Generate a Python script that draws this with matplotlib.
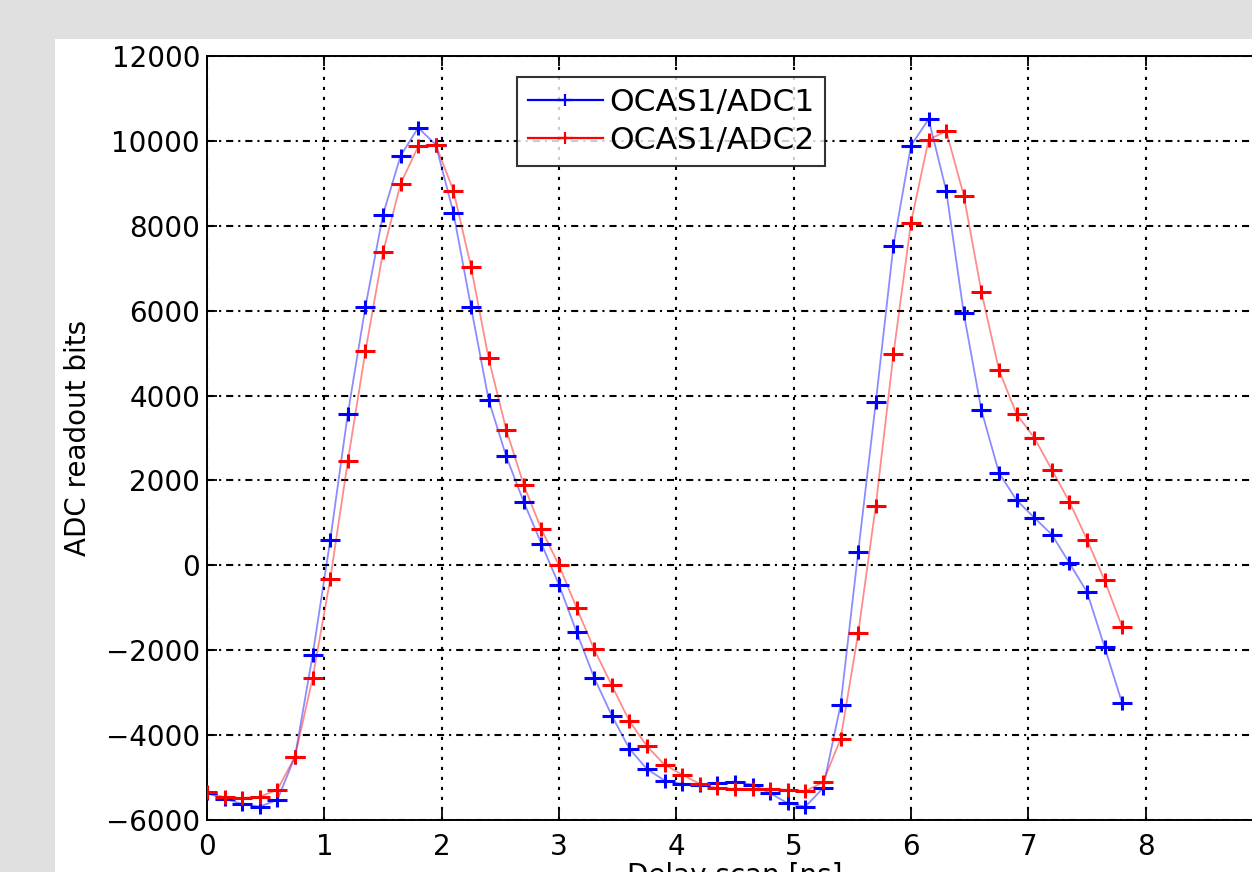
import matplotlib
matplotlib.use("Agg")
import matplotlib.pyplot as plt
from matplotlib.lines import Line2D
from matplotlib.patches import Rectangle
from matplotlib.path import Path

# ── Data ────────────────────────────────────────────────────────────────────
delay_ns = [0.00, 0.15, 0.30, 0.45, 0.60, 0.75, 0.90, 1.05, 1.20, 1.35,
            1.50, 1.65, 1.80, 1.95, 2.10, 2.25, 2.40, 2.55, 2.70, 2.85,
            3.00, 3.15, 3.30, 3.45, 3.60, 3.75, 3.90, 4.05, 4.20, 4.35,
            4.50, 4.65, 4.80, 4.95, 5.10, 5.25, 5.40, 5.55, 5.70, 5.85,
            6.00, 6.15, 6.30, 6.45, 6.60, 6.75, 6.90, 7.05, 7.20, 7.35,
            7.50, 7.65, 7.80]

adc1 = [-5370, -5500, -5620, -5685, -5525, -4505, -2120, 590, 3570, 6090,
        8260, 9650, 10310, 9910, 8310, 6090, 3900, 2570, 1490, 510,
        -460, -1570, -2650, -3540, -4320, -4800, -5070, -5150, -5165, -5135,
        -5095, -5165, -5370, -5605, -5685, -5250, -3285, 315, 3840, 7525,
        9890, 10510, 8830, 5935, 3655, 2180, 1535, 1125, 725, 55,
        -630, -1925, -3250]

adc2 = [-5350, -5465, -5480, -5450, -5290, -4505, -2660, -330, 2450, 5040,
        7375, 8990, 9870, 9910, 8830, 7035, 4875, 3200, 1890, 850,
        0, -1000, -1980, -2830, -3670, -4260, -4700, -4930, -5150, -5250,
        -5265, -5265, -5265, -5290, -5320, -5110, -4090, -1595, 1405, 4970,
        8075, 10025, 10235, 8710, 6445, 4600, 3560, 3010, 2255, 1495,
        605, -355, -1455]

series_labels = ["OCAS1/ADC1", "OCAS1/ADC2"]
series_colors = ["#0000ff", "#ff0000"]

x_ticks = [0, 1, 2, 3, 4, 5, 6, 7, 8, 9]
y_ticks = [-6000, -4000, -2000, 0, 2000, 4000, 6000, 8000, 10000, 12000]

# wide "+" marker (the scan looks horizontally stretched)
PLUS = Path([(-1.0, 0.0), (1.0, 0.0), (0.0, -0.7), (0.0, 0.7)],
            [Path.MOVETO, Path.LINETO, Path.MOVETO, Path.LINETO])

plt.rcParams["font.family"] = "DejaVu Sans"

W, H = 1252, 872
fig = plt.figure(figsize=(W / 100, H / 100), dpi=100)
fig.patch.set_facecolor("#e0e0e0")
fig.patches.append(Rectangle((55 / W, 0), 1, 1 - 39 / H, transform=fig.transFigure,
                             facecolor="white", edgecolor="none", zorder=-1))

# axes run past the right edge, like the cropped original
ax = fig.add_axes([207 / W, 1 - 820 / H, (1263 - 207) / W, (820 - 56) / H])
ax.set_facecolor("white")

handles = []
for ys, lab, col in zip([adc1, adc2], series_labels, series_colors):
    ax.plot(delay_ns, ys, color=col, lw=1.3, alpha=0.45, zorder=3)
    ax.plot(delay_ns, ys, linestyle="none", marker=PLUS, markersize=15,
            markeredgewidth=2.2, color=col, zorder=4)
    handles.append(Line2D([], [], color=col, lw=1.6, marker=PLUS,
                          markersize=12, markeredgewidth=1.6, label=lab))

ax.set_xlim(0, 9)
ax.set_ylim(-6000, 12000)
ax.set_xticks(x_ticks)
ax.set_yticks(y_ticks)

ax.xaxis.grid(True, color="black", lw=1.5, linestyle=(0, (1.5, 3.3)), zorder=1)
ax.yaxis.grid(True, color="black", lw=1.5, linestyle=(0, (3.4, 2.4, 1.0, 2.4)), zorder=1)
ax.set_axisbelow(True)

ax.tick_params(direction="in", length=7, width=1.3, labelsize=20,
               top=True, right=True, colors="black")
ax.tick_params(axis="x", pad=9)
ax.tick_params(axis="y", pad=5)
for s in ax.spines.values():
    s.set_linewidth(1.4)

ax.set_xlabel("Delay scan [ns]", fontsize=20, labelpad=1)
ax.set_ylabel("ADC readout bits", fontsize=20, labelpad=10)

leg = ax.legend(handles=handles, loc="upper left", bbox_to_anchor=(0.2936, 0.9725),
                borderaxespad=0, fontsize=22.5, frameon=True, fancybox=False,
                handlelength=2.4, handletextpad=0.2, borderpad=0.35,
                labelspacing=0.3)
leg.get_frame().set_edgecolor("black")
leg.get_frame().set_linewidth(1.5)

fig.savefig("out.png", dpi=100, facecolor=fig.get_facecolor())
